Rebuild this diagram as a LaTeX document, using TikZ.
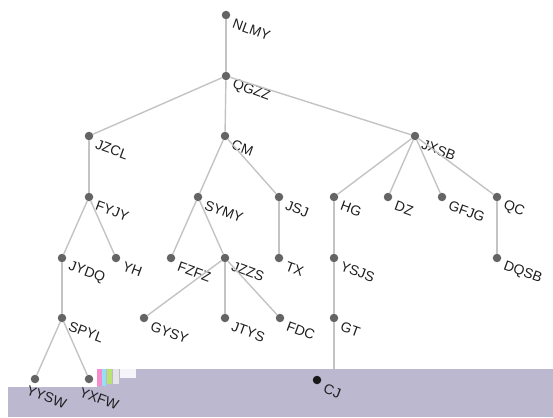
\documentclass[tikz,border=0pt]{standalone}
\usepackage{fontspec}
\setmainfont{Liberation Sans}
\definecolor{dotgray}{RGB}{100,100,100}
\definecolor{edgegray}{RGB}{195,195,195}
\definecolor{txt}{RGB}{30,30,30}
\definecolor{band}{RGB}{188,184,208}
\begin{document}
\begin{tikzpicture}[x=1pt,y=-1pt,
  dot/.style={circle, fill=dotgray, inner sep=0pt, minimum size=8.5pt},
  lbl/.style={anchor=west, rotate=-20, inner sep=0pt, font=\fontsize{14}{16}\selectfont, text=txt},
  edge/.style={draw=edgegray, line width=1.4pt}]
\useasboundingbox (0,0) rectangle (553,417);
% band at the bottom
\fill[band] (8,387) rectangle (553,417);
\fill[band] (97,369) rectangle (553,387);
\fill[magenta!45] (97,369) rectangle (102,386);
\fill[cyan!40] (102,369) rectangle (106,386);
\fill[yellow!55!green!60] (107,369) rectangle (112,384);
\fill[white!80!gray] (113,369) rectangle (119,384);
\fill[white!85!band] (120,369) rectangle (136,378);
\newcommand{\tn}[4]{\node[dot] (#1) at (#2,#3) {};\node[lbl] (#1-l) at (#2+7,#3+8) {#4};}
\tn{nlmy}{226}{15}{NLMY}
\tn{qgzz}{226}{76}{QGZZ}
\tn{jzcl}{89}{136}{JZCL}
\tn{cm}{225}{136}{CM}
\tn{jxsb}{415}{136}{JXSB}
\tn{fyjy}{89}{197}{FYJY}
\tn{symy}{198}{197}{SYMY}
\tn{jsj}{279}{197}{JSJ}
\tn{hg}{334}{197}{HG}
\tn{dz}{388}{197}{DZ}
\tn{gfjg}{442}{197}{GFJG}
\tn{qc}{497}{197}{QC}
\tn{jydq}{62}{258}{JYDQ}
\tn{yh}{116}{258}{YH}
\tn{fzfz}{171}{258}{FZFZ}
\tn{jzzs}{225}{258}{JZZS}
\tn{tx}{279}{258}{TX}
\tn{ysjs}{334}{258}{YSJS}
\tn{dqsb}{497}{258}{DQSB}
\tn{spyl}{62}{318}{SPYL}
\tn{gysy}{144}{318}{GYSY}
\tn{jtys}{225}{318}{JTYS}
\tn{fdc}{280}{318}{FDC}
\tn{gt}{334}{318}{GT}
\node[dot] (yysw) at (35,379) {};
\node[dot] (yxfw) at (89,379) {};
\node[lbl] (yysw-l) at (27,390) {YYSW};
\node[lbl] (yxfw-l) at (80,392) {YXFW};
\node[dot, fill=black!90] (cj) at (317,380) {};
\node[lbl] (cj-l) at (324,388) {CJ};
\coordinate (gtend) at (334,369);
\path[edge] (nlmy) -- (qgzz);
\path[edge] (qgzz) -- (jzcl);
\path[edge] (qgzz) -- (cm);
\path[edge] (qgzz) -- (jxsb);
\path[edge] (jzcl) -- (fyjy);
\path[edge] (fyjy) -- (jydq);
\path[edge] (fyjy) -- (yh);
\path[edge] (jydq) -- (spyl);
\path[edge] (spyl) -- (yysw);
\path[edge] (spyl) -- (yxfw);
\path[edge] (cm) -- (symy);
\path[edge] (cm) -- (jsj);
\path[edge] (symy) -- (fzfz);
\path[edge] (symy) -- (jzzs);
\path[edge] (jzzs) -- (gysy);
\path[edge] (jzzs) -- (jtys);
\path[edge] (jzzs) -- (fdc);
\path[edge] (jsj) -- (tx);
\path[edge] (jxsb) -- (hg);
\path[edge] (jxsb) -- (dz);
\path[edge] (jxsb) -- (gfjg);
\path[edge] (jxsb) -- (qc);
\path[edge] (hg) -- (ysjs);
\path[edge] (ysjs) -- (gt);
\path[edge] (gt) -- (gtend);
\path[edge] (qc) -- (dqsb);
\end{tikzpicture}
\end{document}
